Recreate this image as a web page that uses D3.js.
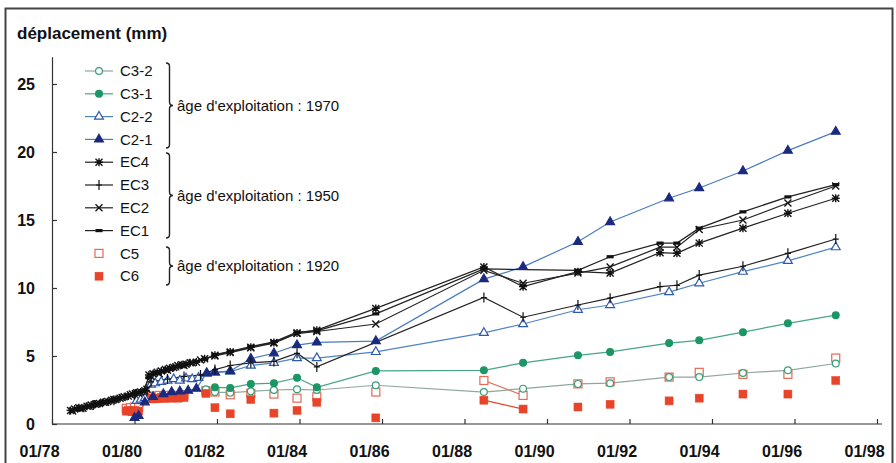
<!DOCTYPE html>
<html><head><meta charset="utf-8">
<script src="https://cdn.jsdelivr.net/npm/d3@7"></script>
<style>
body{margin:0;background:#fff;}
svg{display:block;font-family:"Liberation Sans",Arial,sans-serif;}
</style></head>
<body><svg id="c" width="896" height="463"></svg>
<script>
// ---- data ----
const tickYears = [1978,1980,1982,1984,1986,1988,1990,1992,1994,1996,1998];
const tickLabels = ["01/78","01/80","01/82","01/84","01/86","01/88","01/90","01/92","01/94","01/96","01/98"];
const yTicks = [0,5,10,15,20,25];
const yTitle = "déplacement (mm)";

const seriesNames = ["C3-2","C3-1","C2-2","C2-1","EC4","EC3","EC2","EC1","C5","C6"];
const groupLabels = ["âge d'exploitation : 1970","âge d'exploitation : 1950","âge d'exploitation : 1920"];

const c3_2 = [[1981.73,2.55],[1981.95,2.35],[1982.32,2.3],[1982.82,2.4],[1983.38,2.5],[1983.94,2.55],[1984.42,2.5],[1985.85,2.85],[1988.47,2.35],[1989.42,2.6],[1990.75,2.95],[1991.53,3.0],[1992.96,3.45],[1993.69,3.45],[1994.75,3.75],[1995.84,3.95],[1997.0,4.45]];
const c3_1 = [[1981.95,2.7],[1982.32,2.65],[1982.82,2.95],[1983.38,3.0],[1983.94,3.4],[1984.42,2.7],[1985.85,3.9],[1988.47,3.95],[1989.42,4.5],[1990.75,5.05],[1991.53,5.3],[1992.96,5.95],[1993.69,6.15],[1994.75,6.75],[1995.84,7.4],[1997.0,8.0]];
const c2_2 = [[1980.05,1.7],[1980.15,1.8],[1980.25,1.9],[1980.4,2.9],[1980.5,3.0],[1980.65,3.1],[1980.8,3.2],[1980.95,3.3],[1981.1,3.2],[1981.25,3.35],[1981.4,3.3],[1981.55,3.4],[1981.75,3.7],[1981.95,3.8],[1982.32,3.85],[1982.82,4.3],[1983.38,4.5],[1983.94,4.85],[1984.42,4.85],[1985.85,5.3],[1988.47,6.7],[1989.42,7.35],[1990.75,8.4],[1991.53,8.75],[1992.96,9.7],[1993.69,10.35],[1994.75,11.2],[1995.84,12.0],[1997.0,13.0]];
const c2_1 = [[1980.0,0.45],[1980.1,0.6],[1980.25,1.6],[1980.45,2.0],[1980.7,2.2],[1980.9,2.35],[1981.1,2.4],[1981.3,2.45],[1981.5,2.6],[1981.75,3.75],[1981.95,3.8],[1982.32,3.9],[1982.82,4.8],[1983.38,5.2],[1983.94,5.8],[1984.42,6.0],[1985.85,6.1],[1988.47,10.65],[1989.42,11.55],[1990.75,13.4],[1991.53,14.85],[1992.96,16.6],[1993.69,17.35],[1994.75,18.6],[1995.84,20.1],[1997.0,21.5]];
const ec4 = [[1978.45,1.0],[1978.55,1.1],[1978.65,1.2],[1978.75,1.15],[1978.85,1.3],[1978.95,1.4],[1979.05,1.45],[1979.15,1.5],[1979.25,1.6],[1979.35,1.65],[1979.45,1.75],[1979.55,1.8],[1979.65,1.9],[1979.75,2.0],[1979.85,2.05],[1979.95,2.2],[1980.05,2.3],[1980.15,2.35],[1980.25,2.45],[1980.35,3.6],[1980.45,3.7],[1980.55,3.8],[1980.65,3.9],[1980.75,4.0],[1980.85,4.1],[1980.95,4.15],[1981.05,4.3],[1981.15,4.35],[1981.25,4.4],[1981.35,4.5],[1981.5,4.55],[1981.7,4.8],[1981.95,5.05],[1982.32,5.3],[1982.82,5.65],[1983.38,6.0],[1983.94,6.7],[1984.42,6.9],[1985.85,8.5],[1988.47,11.55],[1989.42,10.1],[1990.75,11.2],[1991.53,11.1],[1992.74,12.6],[1993.15,12.55],[1993.69,13.3],[1994.75,14.4],[1995.84,15.5],[1997.0,16.6]];
const ec3 = [[1979.0,1.4],[1979.5,1.75],[1980.0,2.15],[1980.3,2.45],[1980.4,3.1],[1980.8,3.3],[1981.2,3.5],[1981.6,3.6],[1981.95,4.0],[1982.32,4.3],[1982.82,4.5],[1983.38,4.6],[1983.94,5.2],[1984.42,4.2],[1988.47,9.3],[1989.42,7.85],[1990.75,8.75],[1991.53,9.25],[1992.74,10.1],[1993.15,10.2],[1993.69,10.95],[1994.75,11.6],[1995.84,12.55],[1997.0,13.6]];
const ec2 = [[1978.5,0.95],[1978.7,1.15],[1978.9,1.3],[1979.1,1.5],[1979.3,1.6],[1979.5,1.8],[1979.7,1.95],[1979.9,2.15],[1980.1,2.3],[1980.3,2.55],[1980.4,3.5],[1980.6,3.7],[1980.8,3.95],[1981.0,4.2],[1981.2,4.3],[1981.4,4.5],[1981.6,4.7],[1981.95,5.0],[1982.32,5.25],[1982.82,5.6],[1983.38,5.95],[1983.94,6.65],[1984.42,6.8],[1985.85,7.35],[1988.47,11.3],[1989.42,10.35],[1990.75,11.1],[1991.53,11.55],[1992.74,13.0],[1993.15,13.0],[1993.69,14.3],[1994.75,15.0],[1995.84,16.25],[1997.0,17.5]];
const ec1 = [[1978.6,1.05],[1978.8,1.25],[1979.0,1.35],[1979.2,1.55],[1979.4,1.7],[1979.6,1.85],[1979.8,2.0],[1980.0,2.2],[1980.2,2.4],[1980.35,3.4],[1980.5,3.8],[1980.7,3.85],[1980.9,4.05],[1981.1,4.2],[1981.3,4.45],[1981.5,4.6],[1981.7,4.75],[1981.95,5.1],[1982.32,5.35],[1982.82,5.7],[1983.38,6.05],[1983.94,6.75],[1984.42,6.85],[1985.85,8.1],[1988.47,11.4],[1990.75,11.3],[1991.53,12.3],[1992.74,13.3],[1993.15,13.3],[1993.69,14.4],[1994.75,15.6],[1995.84,16.7],[1997.0,17.6]];
// null = no line joining neighbouring points
const c5 = [[1979.8,1.15],[1979.9,1.2],[1980.0,1.25],[1980.1,1.2],null,[1980.3,2.0],[1980.4,2.05],[1980.5,2.0],[1980.6,2.1],[1980.7,2.05],[1980.8,2.1],[1980.9,2.1],[1981.0,2.05],[1981.1,2.1],[1981.2,2.15],null,[1981.73,2.45],null,[1981.95,2.35],null,[1982.32,2.15],null,[1982.82,2.25],null,[1983.38,2.2],null,[1983.94,1.9],null,[1984.42,2.0],null,[1985.85,2.35],null,[1988.47,3.2],[1989.42,2.1],null,[1990.75,2.95],null,[1991.53,3.1],null,[1992.96,3.45],null,[1993.69,3.8],null,[1994.75,3.65],null,[1995.84,3.65],null,[1997.0,4.85]];
const c6 = [[1979.8,0.95],[1979.85,1.0],[1979.9,0.95],[1979.95,0.9],[1980.0,1.0],[1980.05,0.95],[1980.1,0.95],null,[1980.3,1.85],[1980.35,1.9],[1980.4,1.9],[1980.45,1.85],[1980.5,1.85],[1980.55,1.9],[1980.6,1.9],[1980.65,1.95],[1980.7,1.9],[1980.75,1.9],[1980.8,1.95],[1980.85,1.95],[1980.9,1.9],[1980.95,1.95],[1981.0,1.95],[1981.05,1.9],[1981.1,1.95],[1981.15,2.0],[1981.2,1.95],null,[1981.73,2.25],null,[1981.95,1.2],null,[1982.32,0.75],null,[1982.82,1.8],null,[1983.38,0.8],null,[1983.94,1.0],null,[1984.42,1.6],null,[1985.85,0.45],null,[1988.47,1.75],[1989.42,1.1],null,[1990.75,1.25],null,[1991.53,1.45],null,[1992.96,1.7],null,[1993.69,1.9],null,[1994.75,2.2],null,[1995.84,2.2],null,[1997.0,3.2]];

// ---- styles ----
const styles = {
  "C3-2":{data:c3_2, line:"#8fa79c", mark:"circle", stroke:"#3a9f78", fill:"#fff"},
  "C3-1":{data:c3_1, line:"#47a585", mark:"circle", stroke:"#1d9666", fill:"#1d9666"},
  "C2-2":{data:c2_2, line:"#4f84c4", mark:"triangle", stroke:"#2f5aaa", fill:"#fff"},
  "C2-1":{data:c2_1, line:"#4a7cc0", mark:"triangle", stroke:"#1b2a7e", fill:"#1b2a7e"},
  "EC4":{data:ec4, line:"#222", mark:"star", stroke:"#111", fill:"#111"},
  "EC3":{data:ec3, line:"#222", mark:"plus", stroke:"#111", fill:"#111"},
  "EC2":{data:ec2, line:"#222", mark:"x", stroke:"#111", fill:"#111"},
  "EC1":{data:ec1, line:"#222", mark:"dash", stroke:"#111", fill:"#111"},
  "C5":{data:c5, line:"#e46a55", mark:"square", stroke:"#e46a55", fill:"#fff", noLegendLine:true},
  "C6":{data:c6, line:"#e8442a", mark:"square", stroke:"#e8442a", fill:"#e8442a", noLegendLine:true}
};

const svg = d3.select("#c");
const x = d3.scaleLinear().domain([1978,1998]).range([52,877]);
const y = d3.scaleLinear().domain([0,27]).range([424,56.8]);

// frame
svg.append("rect").attr("x",5.5).attr("y",8.5).attr("width",887).attr("height",470)
  .attr("fill","none").attr("stroke","#444").attr("stroke-width",2);

// title
svg.append("text").attr("x",17).attr("y",39).attr("font-size",17).attr("font-weight","bold")
  .attr("fill","#111").text(yTitle);

// axes
const xa = svg.append("g").attr("transform","translate(0,424)")
  .call(d3.axisBottom(x).tickValues(tickYears).tickSize(-5).tickSizeOuter(0)
  .tickFormat((d,i)=>tickLabels[i]));
xa.select(".domain").attr("d","M52,0H882");
xa.selectAll("text").attr("y",33).attr("dy",0).attr("dx",-13)
  .attr("font-size",16).attr("font-weight","bold").attr("fill","#111")
  .attr("font-family","Liberation Sans, Arial, sans-serif");
const ya = svg.append("g").attr("transform","translate(52,0)")
  .call(d3.axisLeft(y).tickValues(yTicks).tickSize(-5).tickSizeOuter(0));
ya.selectAll("text").attr("x",-17).attr("font-size",16).attr("font-weight","bold").attr("fill","#111")
  .attr("font-family","Liberation Sans, Arial, sans-serif");
svg.selectAll(".domain, .tick line").attr("stroke","#333").attr("stroke-width",1.2);

// marker drawer
function marker(g, type, s, cx, cy) {
  if (type==="circle") {
    g.append("circle").attr("cx",cx).attr("cy",cy).attr("r",3.4)
      .attr("fill",s.fill).attr("stroke",s.stroke).attr("stroke-width",1.2);
  } else if (type==="triangle") {
    g.append("path").attr("transform",`translate(${cx},${cy})`)
      .attr("d",d3.symbol(d3.symbolTriangle,34)())
      .attr("fill",s.fill).attr("stroke",s.stroke).attr("stroke-width",1.2);
  } else if (type==="square") {
    g.append("rect").attr("x",cx-4).attr("y",cy-4).attr("width",8).attr("height",8)
      .attr("fill",s.fill).attr("stroke",s.stroke).attr("stroke-width",s.fill==="#fff"?1.2:0.5);
  } else if (type==="star") {
    g.append("path").attr("d",`M${cx-3.5},${cy-3.5}L${cx+3.5},${cy+3.5}M${cx-3.5},${cy+3.5}L${cx+3.5},${cy-3.5}M${cx},${cy-4}V${cy+4}M${cx-4},${cy}H${cx+4}`)
      .attr("stroke",s.stroke).attr("stroke-width",1.4).attr("fill","none");
  } else if (type==="plus") {
    g.append("path").attr("d",`M${cx},${cy-5}V${cy+5}M${cx-3},${cy}H${cx+3}`)
      .attr("stroke",s.stroke).attr("stroke-width",1.2).attr("fill","none");
  } else if (type==="x") {
    g.append("path").attr("d",`M${cx-3.5},${cy-3.5}L${cx+3.5},${cy+3.5}M${cx-3.5},${cy+3.5}L${cx+3.5},${cy-3.5}`)
      .attr("stroke",s.stroke).attr("stroke-width",1.3).attr("fill","none");
  } else if (type==="dash") {
    g.append("rect").attr("x",cx-3.5).attr("y",cy-1.6).attr("width",7).attr("height",3.2).attr("fill",s.fill);
  }
}

// plot series
const plotOrder = ["C5","C3-2","C3-1","C6","C2-2","C2-1","EC3","EC2","EC1","EC4"];
const line = d3.line().defined(d=>d!==null).x(d=>x(d[0])).y(d=>y(d[1]));
const plot = svg.append("g");
plotOrder.forEach(name=>{
  const s = styles[name];
  plot.append("path").attr("d",line(s.data)).attr("fill","none").attr("stroke",s.line).attr("stroke-width",1.2);
});
plotOrder.forEach(name=>{
  const s = styles[name];
  const g = plot.append("g");
  s.data.filter(d=>d!==null).forEach(d=>marker(g,s.mark,s,x(d[0]),y(d[1])));
});

// legend
const lg = svg.append("g");
seriesNames.forEach((name,i)=>{
  const s = styles[name];
  const cy = 71 + i*22.8;
  if (!s.noLegendLine) lg.append("line").attr("x1",85).attr("x2",113).attr("y1",cy).attr("y2",cy)
    .attr("stroke",s.line).attr("stroke-width",1.2);
  marker(lg,s.mark,s,99,cy);
  lg.append("text").attr("x",120).attr("y",cy).attr("dy","0.35em").attr("font-size",15)
    .attr("fill","#111").text(name);
});
// braces
const braces = [[63,148],[153,238],[247,285]];
braces.forEach((b,i)=>{
  const [t,bm] = b, m=(t+bm)/2, xb=166, w=3.5;
  lg.append("path").attr("d",
    `M${xb},${t} Q${xb+w},${t} ${xb+w},${t+w} L${xb+w},${m-w} Q${xb+w},${m} ${xb+2*w},${m} Q${xb+w},${m} ${xb+w},${m+w} L${xb+w},${bm-w} Q${xb+w},${bm} ${xb},${bm}`)
    .attr("fill","none").attr("stroke","#222").attr("stroke-width",1.4);
  lg.append("text").attr("x",177).attr("y",m).attr("dy","0.35em").attr("font-size",15)
    .attr("fill","#111").text(groupLabels[i]);
});
</script></body></html>
